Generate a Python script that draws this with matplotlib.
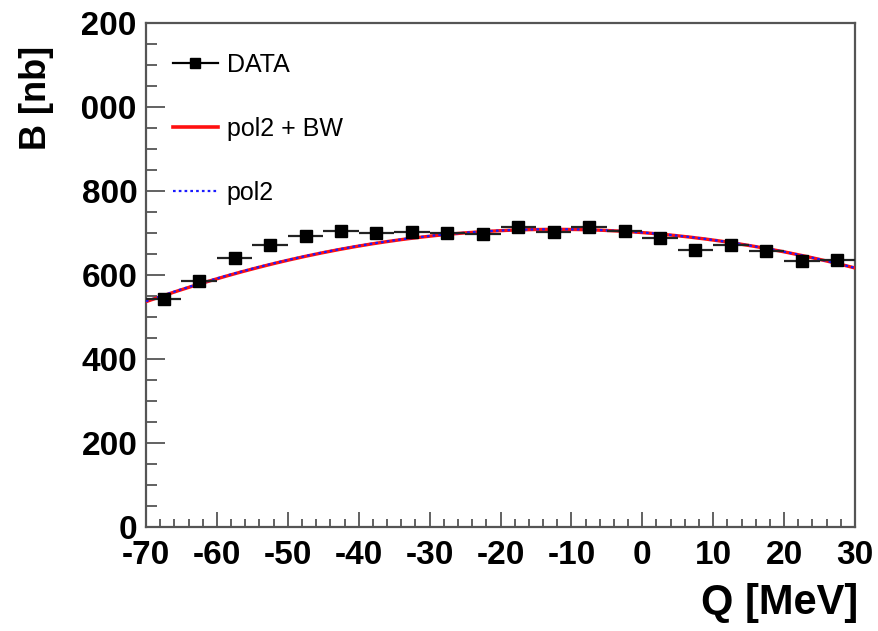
import numpy as np
import matplotlib
matplotlib.use("Agg")
import matplotlib.pyplot as plt
from matplotlib.lines import Line2D
from matplotlib.transforms import Bbox

plt.rcParams["font.family"] = ["Liberation Sans", "DejaVu Sans"]
plt.rcParams["axes.unicode_minus"] = False

# Measured cross section per 5 MeV bin
q_centers = [-67.5, -62.5, -57.5, -52.5, -47.5, -42.5, -37.5, -32.5, -27.5, -22.5,
             -17.5, -12.5, -7.5, -2.5, 2.5, 7.5, 12.5, 17.5, 22.5, 27.5]
sigma = [543, 586, 640, 671, 692, 705, 700, 703, 700, 698,
         714, 702, 714, 704, 687, 660, 672, 657, 634, 636]
sigma_err = [9] * len(sigma)
q_halfwidth = [2.5] * len(q_centers)

# Fit results: pol2 coefficients (p0 + p1*Q + p2*Q^2)
pol2_coef = [701.2, -1.267, -0.0515]
pol2bw_coef = [701.0, -1.262, -0.0516]

x_ticks = [-70, -60, -50, -40, -30, -20, -10, 0, 10, 20, 30]
y_ticks = [0, 200, 400, 600, 800, 1000, 1200]

W, H = 879, 631
fig = plt.figure(figsize=(W / 100, H / 100), dpi=100)
ax = fig.add_axes([146 / W, 1 - 527 / H, (855 - 146) / W, (527 - 23) / H])

frame_col = "#555555"
for sp in ax.spines.values():
    sp.set_color(frame_col)
    sp.set_linewidth(1.6)

qq = np.linspace(-70, 30, 400)
fit_bw = np.polynomial.polynomial.polyval(qq, pol2bw_coef)
fit_p2 = np.polynomial.polynomial.polyval(qq, pol2_coef)
ax.plot(qq, fit_bw, color="#ff1010", lw=2.4, zorder=3)
ax.plot(qq, fit_p2, color="#1a1aff", lw=1.6, ls=(0, (1.2, 1.4)), zorder=4)

ax.errorbar(q_centers, sigma, xerr=q_halfwidth, yerr=sigma_err, fmt="s",
            color="black", ecolor="#222222", ms=8, elinewidth=1.6, capsize=0,
            zorder=5)

ax.set_xlim(-70, 30)
ax.set_ylim(0, 1200)
ax.set_xticks(x_ticks)
ax.set_yticks(y_ticks)
ax.set_xticks(np.arange(-70, 31, 2), minor=True)
ax.set_yticks(np.arange(0, 1201, 50), minor=True)

ax.tick_params(axis="both", which="both", direction="in", color=frame_col,
               width=1.3, top=False, right=False)
ax.tick_params(axis="x", which="major", length=11, pad=9)
ax.tick_params(axis="x", which="minor", length=5.5)
ax.tick_params(axis="y", which="major", length=14, pad=6)
ax.tick_params(axis="y", which="minor", length=8)
for lab in ax.get_xticklabels() + ax.get_yticklabels():
    lab.set_fontsize(24)
    lab.set_fontweight("bold")

fig.text(858 / W, 1 - 603 / H, "Q [MeV]", ha="right", va="center",
         fontsize=30, fontweight="bold")
fig.text(37 / W, 1 - 98 / H, "B [nb]", ha="center", va="center",
         rotation=90, fontsize=26, fontweight="bold")

handles = [
    Line2D([], [], color="black", marker="s", ms=7, lw=1.6),
    Line2D([], [], color="#ff1010", lw=2.6),
    Line2D([], [], color="#1a1aff", lw=1.6, ls=(0, (1.2, 1.4))),
]
labels = ["DATA", "pol2 + BW", "pol2"]
ax.legend(handles, labels, loc="upper left",
          bbox_to_anchor=(173 / W, 1 - 53 / H), bbox_transform=fig.transFigure,
          frameon=False, fontsize=18, handlelength=1.8, handletextpad=0.35,
          labelspacing=1.6, borderpad=0, borderaxespad=0)

# Four-digit tick labels run past the left edge of the pad and lose their
# leading digit there.
fig.canvas.draw()
for lab in ax.get_yticklabels():
    txt = lab.get_text()
    if len(txt) >= 4:
        bb = lab.get_window_extent()
        cut = bb.x0 + bb.width / len(txt)
        lab.set_clip_box(Bbox([[cut, -1e4], [1e5, 1e5]]))
        lab.set_clip_on(True)

fig.savefig("out.png", dpi=100)
